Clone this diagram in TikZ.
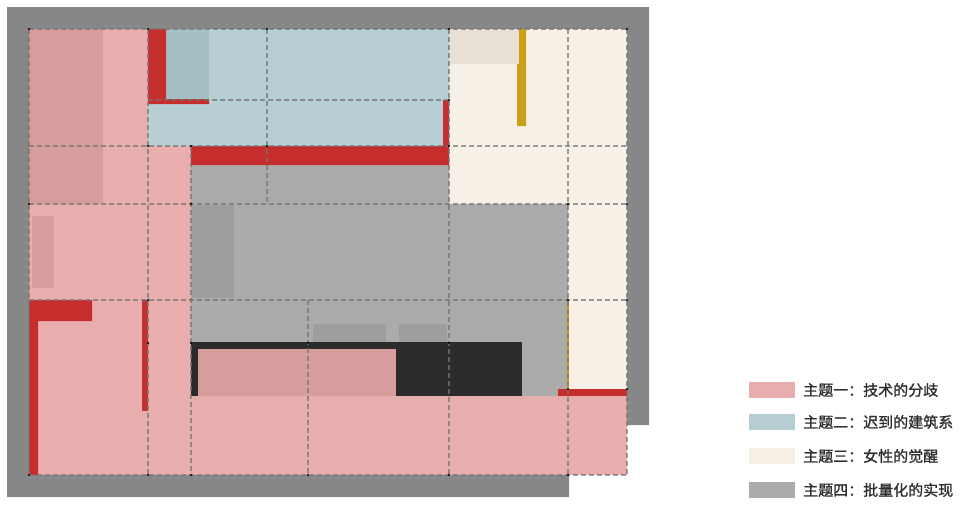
\documentclass[tikz,border=0pt]{standalone}
\usepackage{fontspec}
\newfontfamily\cjk[UprightFeatures={FakeBold=1.2}]{Noto Sans CJK SC}
\definecolor{frame}{HTML}{878787}
\definecolor{pinkA}{HTML}{E8AEAD}
\definecolor{pinkB}{HTML}{D79C9C}
\definecolor{blueA}{HTML}{B7CFD4}
\definecolor{blueB}{HTML}{A6BFC5}
\definecolor{beigeA}{HTML}{F7F0E6}
\definecolor{beigeB}{HTML}{E8E0D5}
\definecolor{grayA}{HTML}{ABABAB}
\definecolor{grayB}{HTML}{9F9E9E}
\definecolor{wall}{HTML}{C62E2D}
\definecolor{gold}{HTML}{C9A018}
\definecolor{ink}{HTML}{2B2B2B}
\definecolor{txt}{HTML}{2E2E2E}
\tikzset{
  axis/.style={draw=black!55, line width=1.1pt, dash pattern=on 5pt off 3pt, opacity=.7},
  swatch/.style={minimum width=46pt, minimum height=16pt, inner sep=0pt},
  keytext/.style={anchor=west, inner sep=0pt, text=txt, font=\cjk\fontsize{15}{18}\selectfont}
}
\begin{document}
\begin{tikzpicture}[x=1pt,y=-1pt]
\useasboundingbox (0,0) rectangle (960,504);
\fill[frame] (7,7)--(649,7)--(649,425)--(569,425)--(569,497)--(7,497)--cycle;
\fill[pinkA] (29,29) rectangle (627,475);
\fill[blueA] (148,29) rectangle (449,146);
\fill[beigeA] (449,29)--(627,29)--(627,389)--(568,389)--(568,204)--(449,204)--cycle;
\fill[grayA] (191,146)--(449,146)--(449,204)--(568,204)--(568,396)--(191,396)--cycle;
\fill[pinkB] (29,29) rectangle (103,204);
\fill[pinkB] (32,216) rectangle (54,288);
\fill[blueB] (166,29) rectangle (209,100);
\fill[beigeB] (449,29) rectangle (519,64);
\fill[grayB] (192,205) rectangle (234,298);
\fill[grayB] (313,324) rectangle (386,342);
\fill[grayB] (399,324) rectangle (447,342);
\fill[ink] (191,342) rectangle (522,396);
\fill[pinkB] (198,349) rectangle (396,396);
\fill[wall] (148,29) rectangle (166,104) (148,99) rectangle (209,104);
\fill[wall] (443,100) rectangle (449,146) (191,146) rectangle (449,165);
\fill[wall] (29,300) rectangle (38,475) (29,300) rectangle (92,321);
\fill[wall] (142,300) rectangle (148,411);
\fill[wall] (558,389) rectangle (627,396);
\fill[gold] (519,29) rectangle (526,64) (517,64) rectangle (526,126);
\fill[gold] (567.2,300) rectangle (569,389);
\draw[axis] (29,29)--(627,29) (148,100)--(449,100) (29,146)--(627,146)
(29,204)--(627,204) (29,300)--(627,300) (29,475)--(627,475);
\draw[axis] (29,29)--(29,475) (148,29)--(148,475) (191,146)--(191,475)
(267,29)--(267,204) (308,300)--(308,475) (449,29)--(449,475)
(568,29)--(568,475) (627,29)--(627,475);
\fill[black] (29,29) circle[radius=1.2] (148,29) circle[radius=1.2]
(267,29) circle[radius=1.2] (449,29) circle[radius=1.2] (627,29) circle[radius=1.2]
(449,100) circle[radius=1.2] (148,146) circle[radius=1.2] (191,146) circle[radius=1.2]
(267,146) circle[radius=1.2] (449,146) circle[radius=1.2] (29,204) circle[radius=1.2]
(191,204) circle[radius=1.2] (568,204) circle[radius=1.2] (627,204) circle[radius=1.2]
(148,300) circle[radius=1.2] (568,300) circle[radius=1.2] (627,300) circle[radius=1.2]
(148,343) circle[radius=1.2] (191,343) circle[radius=1.2] (308,343) circle[radius=1.2]
(449,343) circle[radius=1.2] (568,389) circle[radius=1.2] (627,389) circle[radius=1.2]
(29,475) circle[radius=1.2] (148,475) circle[radius=1.2] (191,475) circle[radius=1.2]
(308,475) circle[radius=1.2] (449,475) circle[radius=1.2] (568,475) circle[radius=1.2];
\node[swatch,fill=pinkA] (key1) at (772,390) {};
\node[swatch,fill=blueA] (key2) at (772,422) {};
\node[swatch,fill=beigeA] (key3) at (772,456) {};
\node[swatch,fill=grayA] (key4) at (772,490) {};
\node[keytext] (lab1) at (803,390) {主题一：技术的分歧};
\node[keytext] (lab2) at (803,422) {主题二：迟到的建筑系};
\node[keytext] (lab3) at (803,456) {主题三：女性的觉醒};
\node[keytext] (lab4) at (803,490) {主题四：批量化的实现};
\end{tikzpicture}
\end{document}
